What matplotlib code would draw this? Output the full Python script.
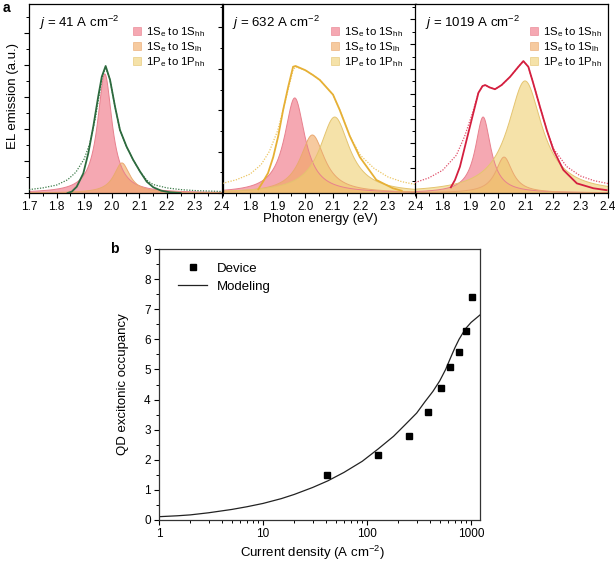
import matplotlib
matplotlib.use("Agg")
import matplotlib.pyplot as plt
import numpy as np
from matplotlib.ticker import MultipleLocator, NullFormatter
from matplotlib.patches import Patch

plt.rcParams['font.family'] = ['Liberation Sans', 'DejaVu Sans']
plt.rcParams['mathtext.fontset'] = 'custom'
plt.rcParams['mathtext.rm'] = 'Liberation Sans'
plt.rcParams['mathtext.it'] = 'Liberation Sans:italic'

# ---- panel a data: current densities, fitted peaks (center eV, height, hwhm) ----
j_labels = ["41", "632", "1019"]
comp_names = [r"1S$\mathregular{_e}$ to 1S$\mathregular{_{hh}}$",
              r"1S$\mathregular{_e}$ to 1S$\mathregular{_{lh}}$",
              r"1P$\mathregular{_e}$ to 1P$\mathregular{_{hh}}$"]
peak_center = [[1.975, 2.037, None], [1.962, 2.026, 2.107], [1.947, 2.023, 2.099]]
peak_height = [[0.63, 0.159, 0.0], [0.503, 0.307, 0.402], [0.402, 0.19, 0.593]]
peak_hwhm = [[0.032, 0.035, 0.05], [0.045, 0.054, 0.065], [0.034, 0.037, 0.075]]

meas_e1 = [1.84, 1.855, 1.873, 1.897, 1.915, 1.933, 1.951, 1.964, 1.978, 1.994, 2.012, 2.03,
           2.054, 2.078, 2.103, 2.127, 2.151, 2.18, 2.21, 2.25]
meas_i1 = [0.0, 0.007, 0.033, 0.104, 0.21, 0.35, 0.51, 0.615, 0.672, 0.598, 0.457, 0.333,
           0.245, 0.175, 0.113, 0.06, 0.03, 0.012, 0.004, 0.0]
meas_e2 = [1.83, 1.847, 1.865, 1.884, 1.902, 1.92, 1.938, 1.956, 1.965, 2.0, 2.028, 2.053, 2.077,
           2.101, 2.125, 2.162, 2.198, 2.258, 2.318, 2.35]
meas_i2 = [0.02, 0.06, 0.105, 0.19, 0.30, 0.44, 0.56, 0.668, 0.672, 0.65, 0.624, 0.598, 0.559,
           0.52, 0.44, 0.30, 0.19, 0.069, 0.025, 0.012]
meas_e3 = [1.83, 1.845, 1.863, 1.887, 1.911, 1.93, 1.945, 1.955, 1.97, 1.99, 2.014, 2.045, 2.075,
           2.093, 2.111, 2.129, 2.153, 2.178, 2.202, 2.238, 2.287, 2.347, 2.395]
meas_i3 = [0.03, 0.069, 0.139, 0.28, 0.42, 0.53, 0.566, 0.571, 0.559, 0.549, 0.571, 0.615, 0.668,
           0.698, 0.668, 0.58, 0.457, 0.333, 0.228, 0.122, 0.051, 0.025, 0.015]

# fit envelopes (dotted)
fit_e1 = [1.70, 1.75, 1.80, 1.84, 1.87, 1.90, 1.92, 1.94, 1.955, 1.965, 1.978, 1.994, 2.012,
          2.03, 2.054, 2.078, 2.103, 2.127, 2.15, 2.2, 2.25, 2.3, 2.4]
fit_i1 = [0.018, 0.027, 0.042, 0.07, 0.11, 0.18, 0.26, 0.39, 0.52, 0.61, 0.665, 0.598, 0.457,
          0.333, 0.245, 0.175, 0.113, 0.068, 0.045, 0.027, 0.018, 0.013, 0.008]
fit_e2 = [1.70, 1.75, 1.80, 1.84, 1.87, 1.90, 1.92, 1.94, 1.956, 1.965, 2.0, 2.028, 2.053, 2.077,
          2.101, 2.125, 2.162, 2.2, 2.25, 2.3, 2.35, 2.4]
fit_i2 = [0.051, 0.07, 0.10, 0.15, 0.22, 0.33, 0.44, 0.56, 0.65, 0.668, 0.65, 0.624, 0.598, 0.559,
          0.52, 0.44, 0.30, 0.2, 0.13, 0.085, 0.06, 0.045]
fit_e3 = [1.70, 1.75, 1.80, 1.85, 1.88, 1.91, 1.93, 1.945, 1.955, 1.97, 1.99, 2.014, 2.045, 2.075,
          2.093, 2.111, 2.129, 2.153, 2.178, 2.202, 2.25, 2.3, 2.35, 2.4]
fit_i3 = [0.055, 0.08, 0.12, 0.2, 0.3, 0.43, 0.53, 0.566, 0.571, 0.559, 0.549, 0.571, 0.615, 0.668,
          0.698, 0.668, 0.58, 0.457, 0.333, 0.235, 0.14, 0.09, 0.065, 0.05]

meas_e = [meas_e1, meas_e2, meas_e3]
meas_i = [meas_i1, meas_i2, meas_i3]
fit_e = [fit_e1, fit_e2, fit_e3]
fit_i = [fit_i1, fit_i2, fit_i3]

# ---- panel b data ----
dev_j = [41, 127, 255, 382, 509, 632, 764, 891, 1019]
dev_occ = [1.5, 2.16, 2.8, 3.6, 4.4, 5.09, 5.59, 6.29, 7.4]
mod_j = [1, 1.5, 2, 3, 5, 7, 10, 15, 20, 30, 42, 60, 90, 128, 180, 232, 300, 361, 430, 500,
         570, 638, 700, 767, 884, 1000, 1220]
mod_occ = [0.11, 0.14, 0.17, 0.24, 0.35, 0.44, 0.55, 0.71, 0.85, 1.08, 1.30, 1.58, 1.95, 2.36,
           2.78, 3.16, 3.55, 3.93, 4.27, 4.62, 5.0, 5.4, 5.72, 6.0, 6.35, 6.56, 6.81]

line_col = ["#2d6a3e", "#e6b035", "#d41f3f"]
fit_col = ["#3f7d4c", "#ecc664", "#e0506a"]
fill_col = ["#ef6f80", "#f0a860", "#efcf70"]
edge_col = ["#e8808e", "#eaa870", "#e4c470"]
ytick_step = [0.0847, 0.1095, 0.0656]
leg_x = [0.54, 0.56, 0.595]

fig = plt.figure(figsize=(6.15, 5.64), dpi=100)
lefts = [29 / 615, 222.5 / 615, 415 / 615]
w = 193 / 615
bot = 1 - 193 / 564
h = 189 / 564

E = np.linspace(1.7, 2.4, 600)
for k in range(3):
    ax = fig.add_axes([lefts[k], bot, w, h])
    for c in range(3):
        if peak_center[k][c] is None:
            continue
        y = peak_height[k][c] / (1 + ((E - peak_center[k][c]) / peak_hwhm[k][c]) ** 2)
        ax.fill_between(E, 0, y, facecolor=fill_col[c], alpha=0.6, edgecolor='none', zorder=2)
        ax.plot(E, y, color=edge_col[c], lw=0.7, zorder=2.5)
    ax.plot(fit_e[k], fit_i[k], color=fit_col[k], lw=0.9, ls=(0, (1, 1.2)), zorder=3)
    ax.plot(meas_e[k], meas_i[k], color=line_col[k], lw=1.3, zorder=4)
    ax.set_xlim(1.7, 2.4)
    ax.set_ylim(0, 1)
    ax.xaxis.set_major_locator(MultipleLocator(0.1))
    ax.xaxis.set_minor_locator(MultipleLocator(0.05))
    ax.yaxis.set_major_locator(MultipleLocator(2 * ytick_step[k]))
    ax.yaxis.set_minor_locator(MultipleLocator(ytick_step[k]))
    ax.yaxis.set_major_formatter(NullFormatter())
    if k > 0:
        ax.set_xticks(np.arange(1.8, 2.41, 0.1))
    ax.set_xticklabels([f"{t:.1f}" for t in ax.get_xticks()])
    ax.tick_params(which='major', direction='out', length=3.5, width=0.8, labelsize=8.5, pad=2)
    ax.tick_params(which='minor', direction='out', length=2, width=0.7)
    for s in ax.spines.values():
        s.set_linewidth(0.9)
    ax.text(0.05, 0.9, r"$\it{j}$ = " + j_labels[k] + r" A cm$^{-2}$", transform=ax.transAxes,
            fontsize=9.5, ha='left', va='center')
    handles = [Patch(facecolor=fill_col[c], alpha=0.6, edgecolor=edge_col[c], lw=0.7) for c in range(3)]
    ax.legend(handles, comp_names, loc='upper left', bbox_to_anchor=(leg_x[k], 0.89),
              frameon=False, fontsize=8.2, handlelength=0.7, handleheight=0.7,
              handletextpad=0.45, labelspacing=0.12, borderpad=0, borderaxespad=0)

fig.text(0.004, 0.998, "a", fontsize=10, fontweight='bold', ha='left', va='top')
fig.text(13 / 615, 1 - 96 / 564, "EL emission (a.u.)", rotation=90, fontsize=9.5,
         ha='center', va='center')
fig.text(320 / 615, 1 - 219 / 564, "Photon energy (eV)", fontsize=9.5, ha='center', va='center')

# ---- panel b ----
axb = fig.add_axes([159 / 615, 1 - 520 / 564, 321 / 615, 271 / 564])
axb.plot(dev_j, dev_occ, 's', color='black', ms=5, label='Device', zorder=3)
axb.plot(mod_j, mod_occ, '-', color='#222222', lw=0.9, label='Modeling')
axb.set_xscale('log')
axb.set_xlim(1, 1220)
axb.set_ylim(0, 9)
axb.yaxis.set_major_locator(MultipleLocator(1))
axb.yaxis.set_minor_locator(MultipleLocator(0.5))
axb.set_xticks([1, 10, 100, 1000])
axb.set_xticklabels(["1", "10", "100", "1000"])
axb.tick_params(which='major', direction='out', length=3.5, width=0.8, labelsize=8.5, pad=2.5)
axb.tick_params(which='minor', direction='out', length=2, width=0.7)
for s in axb.spines.values():
    s.set_linewidth(0.9)
    s.set_color('#333333')
axb.set_ylabel("QD excitonic occupancy", fontsize=9.5, labelpad=11)
fig.text(312 / 615, 1 - 553 / 564, r"Current density (A cm$^{-2}$)", fontsize=9.5,
         ha='center', va='center')
axb.legend(loc='upper left', bbox_to_anchor=(0.06, 0.95), frameon=False, fontsize=9.5,
           handlelength=2.2, handletextpad=0.7, labelspacing=0.45, borderpad=0, borderaxespad=0)
fig.text(114 / 615, 1 - 249 / 564, "b", fontsize=10, fontweight='bold', ha='center', va='center')

fig.savefig("out.png", dpi=100)
